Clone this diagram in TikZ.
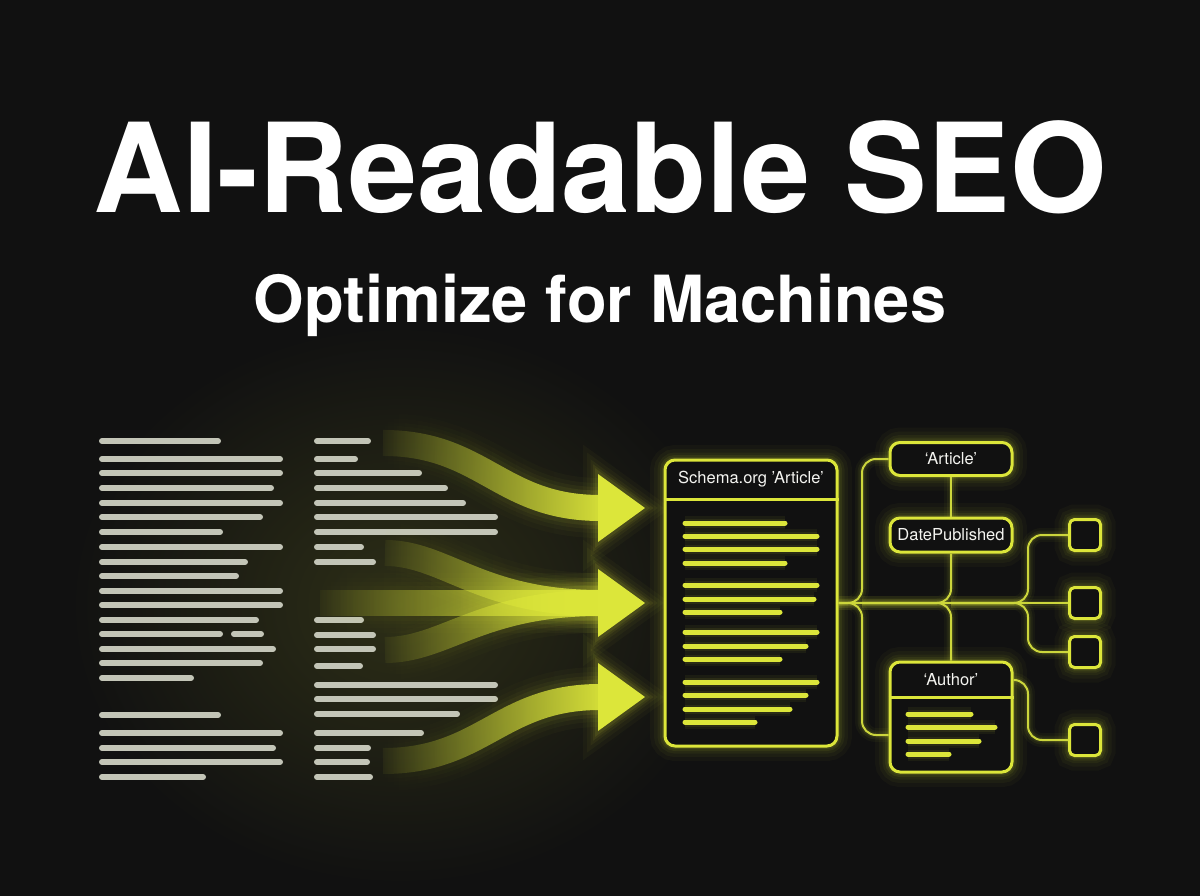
\documentclass[tikz,border=0pt]{standalone}
\usepackage{fontspec}
\setmainfont{TeX Gyre Heros}
\usetikzlibrary{fadings}

\definecolor{bg}{HTML}{111111}
\definecolor{neon}{HTML}{DCE63A}
\definecolor{wirec}{HTML}{CCD63C}
\definecolor{barc}{HTML}{C3C5B7}
\definecolor{txt}{HTML}{F4F4F0}

\tikzfading[name=fadein, left color=transparent!100, middle color=transparent!0, right color=transparent!0]

\tikzset{
  glow/.style={preaction={draw=neon, draw opacity=.03, line width=30pt},
               preaction={draw=neon, draw opacity=.04, line width=22pt},
               preaction={draw=neon, draw opacity=.05, line width=15pt},
               preaction={draw=neon, draw opacity=.07, line width=10pt},
               preaction={draw=neon, draw opacity=.09, line width=6pt}},
  wire/.style={draw=wirec, line width=2pt,
               preaction={draw=neon, draw opacity=.04, line width=14pt},
               preaction={draw=neon, draw opacity=.06, line width=9pt},
               preaction={draw=neon, draw opacity=.09, line width=5pt}},
  box/.style={draw=neon, line width=3pt, fill=bg, rounded corners=10pt, glow},
  sqbox/.style={draw=neon, line width=3pt, fill=bg, rounded corners=5pt,
                minimum size=31pt, glow},
  lbl/.style={text=txt, font=\fontsize{16.5}{19}\selectfont},
}

\begin{document}
\begin{tikzpicture}[x=1pt,y=-1pt,
  bar/.style={line width=6pt, line cap=round, draw=barc},
  hot/.style={line width=5pt, line cap=round, draw=neon,
              preaction={draw=neon, draw opacity=.06, line width=14pt},
              preaction={draw=neon, draw opacity=.08, line width=9pt}},
  band/.style={line width=26pt, draw=neon, path fading=fadein},
  halo/.style={draw=neon, path fading=fadein,
               preaction={draw=neon, draw opacity=.035, line width=60pt, path fading=fadein},
               preaction={draw=neon, draw opacity=.045, line width=50pt, path fading=fadein},
               preaction={draw=neon, draw opacity=.06, line width=42pt, path fading=fadein},
               draw opacity=.08, line width=35pt}]
\useasboundingbox (0,0) rectangle (1200,896);
\fill[bg] (0,0) rectangle (1200,896);
\shade[inner color=neon!14!bg, outer color=bg] (400,605) ellipse (330 and 280);

% title
\node[anchor=base, text=white, font=\fontsize{124}{130}\selectfont\bfseries] (title) at (600,213) {AI-Readable SEO};
\node[anchor=base, text=white, font=\fontsize{65}{70}\selectfont\bfseries] (subtitle) at (600,322) {Optimize for Machines};

% plain text, two columns
\draw[bar] (102,441) -- (218,441)
  (102,459) -- (280,459)
  (102,473) -- (280,473)
  (102,488) -- (271,488)
  (102,503) -- (280,503)
  (102,517) -- (260,517)
  (102,532) -- (220,532)
  (102,547) -- (280,547)
  (102,562) -- (245,562)
  (102,576) -- (236,576)
  (102,591) -- (280,591)
  (102,605) -- (280,605)
  (102,620) -- (256,620)
  (102,634) -- (220,634) (234,634) -- (261,634)
  (102,649) -- (273,649)
  (102,663) -- (260,663)
  (102,678) -- (191,678)
  (102,715) -- (218,715)
  (102,733) -- (280,733)
  (102,748) -- (273,748)
  (102,762) -- (280,762)
  (102,777) -- (203,777);
\draw[bar] (317,441) -- (368,441)
  (317,459) -- (355,459)
  (317,473) -- (419,473)
  (317,488) -- (445,488)
  (317,503) -- (463,503)
  (317,517) -- (495,517)
  (317,532) -- (495,532)
  (317,547) -- (361,547)
  (317,562) -- (373,562)
  (317,620) -- (361,620)
  (317,635) -- (373,635)
  (317,649) -- (373,649)
  (317,666) -- (360,666)
  (317,685) -- (495,685)
  (317,699) -- (495,699)
  (317,714) -- (457,714)
  (317,733) -- (421,733)
  (317,748) -- (368,748)
  (317,762) -- (367,762)
  (317,777) -- (370,777);

% flows into the schema
\coordinate (in1) at (383,443);
\coordinate (in2a) at (385,553);
\coordinate (in2b) at (320,603);
\coordinate (in2c) at (385,650);
\coordinate (in3) at (383,761);
\coordinate (out1) at (600,508);
\coordinate (out2) at (600,603);
\coordinate (out3) at (600,697);

\draw[halo] (in1) .. controls +(100,0) and +(-100,0) .. (out1);
\draw[halo] (in2a) .. controls +(60,0) and +(-120,0) .. (out2);
\draw[halo] (in2b) -- (out2);
\draw[halo] (in2c) .. controls +(60,0) and +(-120,0) .. (out2);
\draw[halo] (in3) .. controls +(100,0) and +(-100,0) .. (out3);

\draw[band] (in1) .. controls +(100,0) and +(-100,0) .. (out1);
\draw[band] (in2a) .. controls +(60,0) and +(-120,0) .. (out2);
\draw[band] (in2b) -- (out2);
\draw[band] (in2c) .. controls +(60,0) and +(-120,0) .. (out2);
\draw[band] (in3) .. controls +(100,0) and +(-100,0) .. (out3);

\fill[neon, glow] (out1) ++(-2,-34) -- ++(47,34) -- ++(-47,34) -- cycle;
\fill[neon, glow] (out2) ++(-2,-34) -- ++(47,34) -- ++(-47,34) -- cycle;
\fill[neon, glow] (out3) ++(-2,-34) -- ++(47,34) -- ++(-47,34) -- cycle;

% schema tree
\node[box, minimum width=172pt, minimum height=286pt] (schema) at (751,603) {};
\node[box, minimum width=122pt, minimum height=33pt] (art) at (951,459) {};
\node[box, minimum width=122pt, minimum height=34pt] (date) at (951,535) {};
\node[box, minimum width=122pt, minimum height=110pt] (auth) at (951,717) {};
\node[sqbox] (sq1) at (1085,535) {};
\node[sqbox] (sq2) at (1085,603) {};
\node[sqbox] (sq3) at (1085,652) {};
\node[sqbox] (sq4) at (1085,740) {};

\coordinate (j1) at (862,603);
\coordinate (j2) at (951,603);
\coordinate (up1) at (862,459);
\coordinate (dn1) at (862,735);
\coordinate (up3) at (1028,535);
\coordinate (dn3) at (1028,652);
\coordinate (dn4) at (1028,740);
\coordinate (ahdr) at (951,680);

\draw[wire] (schema.east) -- (sq2.west);
\draw[wire, rounded corners=14pt] (schema.east) -| (up1) -- (art.west);
\draw[wire, rounded corners=14pt] (schema.east) -| (dn1) -- (auth.west |- dn1);
\draw[wire] (art.south) -- (date.north);
\draw[wire, rounded corners=14pt] (date.south) |- (j1);
\draw[wire, rounded corners=14pt] (auth.north) |- (j1);
\draw[wire, rounded corners=14pt] (j2) -| (up3) -- (sq1.west);
\draw[wire, rounded corners=14pt] (j2) -| (dn3) -- (sq3.west);
\draw[wire, rounded corners=14pt] (auth.east |- ahdr) -| (dn4) -- (sq4.west);

\draw[draw=neon, line width=3pt] (schema.west |- 0,499) -- (schema.east |- 0,499);
\draw[draw=neon, line width=3pt] (auth.west |- 0,697) -- (auth.east |- 0,697);

\node[lbl] (schematitle) at (751,479) {Schema.org 'Article'};
\node[lbl] (arttitle) at (art) {`Article'};
\node[lbl] (datetitle) at (date) {DatePublished};
\node[lbl] (authtitle) at (ahdr) {`Author'};

\draw[hot] (685,523) -- (785,523)
  (685,536) -- (817,536)
  (685,549) -- (817,549)
  (685,563) -- (785,563)
  (685,585) -- (817,585)
  (685,599) -- (814,599)
  (685,612) -- (780,612)
  (685,632) -- (817,632)
  (685,646) -- (806,646)
  (685,659) -- (780,659)
  (685,682) -- (817,682)
  (685,695) -- (806,695)
  (685,709) -- (790,709)
  (685,722) -- (755,722);
\draw[hot] (908,714) -- (971,714)
  (908,727) -- (995,727)
  (908,741) -- (979,741)
  (908,754) -- (949,754);
\end{tikzpicture}
\end{document}
